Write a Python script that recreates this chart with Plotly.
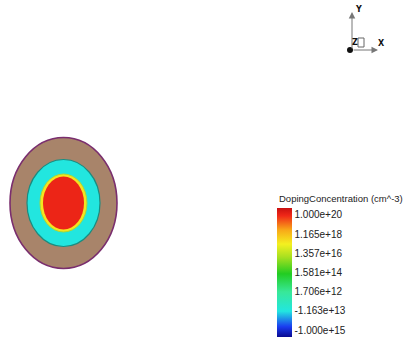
import plotly.graph_objects as go
from plotly.colors import sample_colorscale

W, H = 412, 340

# ---- data ----
regions = ["Oxide", "Channel", "Junction", "Core"]
radius_x = [53.5, 36.5, 23.5, 20.5]
radius_y = [65.5, 43.5, 29.0, 26.5]
region_level = [None, 1.0, 4.6, 6.0]   # position on the doping colour scale (None = undoped oxide)
tick_values = [0, 1, 2, 3, 4, 5, 6]
tick_labels = ["-1.000e+15", "-1.163e+13", "1.706e+12", "1.581e+14",
               "1.357e+16", "1.165e+18", "1.000e+20"]
colorbar_title = "DopingConcentration (cm^-3)"
axis_labels = ["Y", "X", "Z"]

cmin, cmax = -0.36, 6.36
scale = [[0.00, "#0a0a90"], [0.08, "#1a3cf0"], [0.20, "#22e6e0"],
         [0.35, "#38e898"], [0.49, "#22cc22"], [0.62, "#a8e020"],
         [0.72, "#f4f020"], [0.83, "#f8a818"], [0.94, "#f02818"],
         [1.00, "#c81010"]]

def level_color(v):
    return sample_colorscale(scale, [(v - cmin) / (cmax - cmin)])[0]

# device centre in pixel space, axis ranges 1 unit = 1 px
cx, cy = 63.5, 203.0

fig = go.Figure()
fig.add_trace(go.Scatter(
    x=[1e6], y=[1e6], mode="markers", showlegend=False, hoverinfo="skip",
    marker=dict(color=[cmin], cmin=cmin, cmax=cmax, colorscale=scale, showscale=True,
                colorbar=dict(
                    x=277 / W, xanchor="left", y=1 - 272.5 / H, yanchor="middle",
                    lenmode="pixels", len=129, thickness=15, thicknessmode="pixels",
                    xpad=0, ypad=0, outlinewidth=0, ticks="", ticklabelposition="outside",
                    tickvals=tick_values, ticktext=tick_labels,
                    tickfont=dict(family="Liberation Sans", size=10, color="#222"),
                ))))

fill_colors = ["#a8846a"] + [level_color(v) for v in region_level[1:]]
line_colors = ["#7a2e6e", "#1a8c80", "#a8d838", "#f03020"]
line_widths = [1.6, 1.2, 1.0, 0]
for i, name in enumerate(regions):
    fig.add_shape(type="circle", xref="x", yref="y",
                  x0=-radius_x[i], x1=radius_x[i], y0=-radius_y[i], y1=radius_y[i],
                  fillcolor=fill_colors[i],
                  line=dict(color=line_colors[i], width=line_widths[i]))

# colorbar title
fig.add_annotation(x=277 / W, y=1 - 198 / H, xref="paper", yref="paper",
                   xanchor="left", yanchor="middle", showarrow=False,
                   text=colorbar_title,
                   font=dict(family="Liberation Sans", size=9.5, color="#222"))

# orientation triad
fig.add_annotation(x=352 / W, y=1 - 12 / H, xref="paper", yref="paper", ax=0, ay=38,
                   showarrow=True, arrowhead=2, arrowsize=1.3, arrowwidth=1, arrowcolor="#777", text="")
fig.add_annotation(x=378 / W, y=1 - 50 / H, xref="paper", yref="paper", ax=-26, ay=0,
                   showarrow=True, arrowhead=2, arrowsize=1.3, arrowwidth=1, arrowcolor="#777", text="")
fig.add_shape(type="rect", xref="paper", yref="paper",
              x0=358 / W, x1=364 / W, y0=1 - 47 / H, y1=1 - 38 / H,
              line=dict(color="#666", width=1))
label_pos = [(358, 9), (381, 43), (355, 42)]
for t, (px, py) in zip(axis_labels, label_pos):
    fig.add_annotation(x=px / W, y=1 - py / H, xref="paper", yref="paper", showarrow=False,
                       xanchor="center", yanchor="middle", text="<b>" + t + "</b>",
                       font=dict(family="DejaVu Sans", size=8, color="#111"))
fig.add_shape(type="circle", xref="paper", yref="paper",
              x0=347 / W, x1=353 / W, y0=1 - 53 / H, y1=1 - 47 / H,
              fillcolor="#111", line=dict(color="#111", width=0))

fig.update_layout(
    width=W, height=H, margin=dict(l=0, r=0, t=0, b=0, pad=0, autoexpand=False),
    paper_bgcolor="white", plot_bgcolor="white", showlegend=False,
    xaxis=dict(range=[-cx, W - cx], visible=False, domain=[0, 1]),
    yaxis=dict(range=[-(H - cy), cy], visible=False, domain=[0, 1]),
)
fig.write_html("out.html", config={"displayModeBar": False, "staticPlot": True},
               post_script="document.body.style.margin='0px';document.body.style.overflow='hidden';")
